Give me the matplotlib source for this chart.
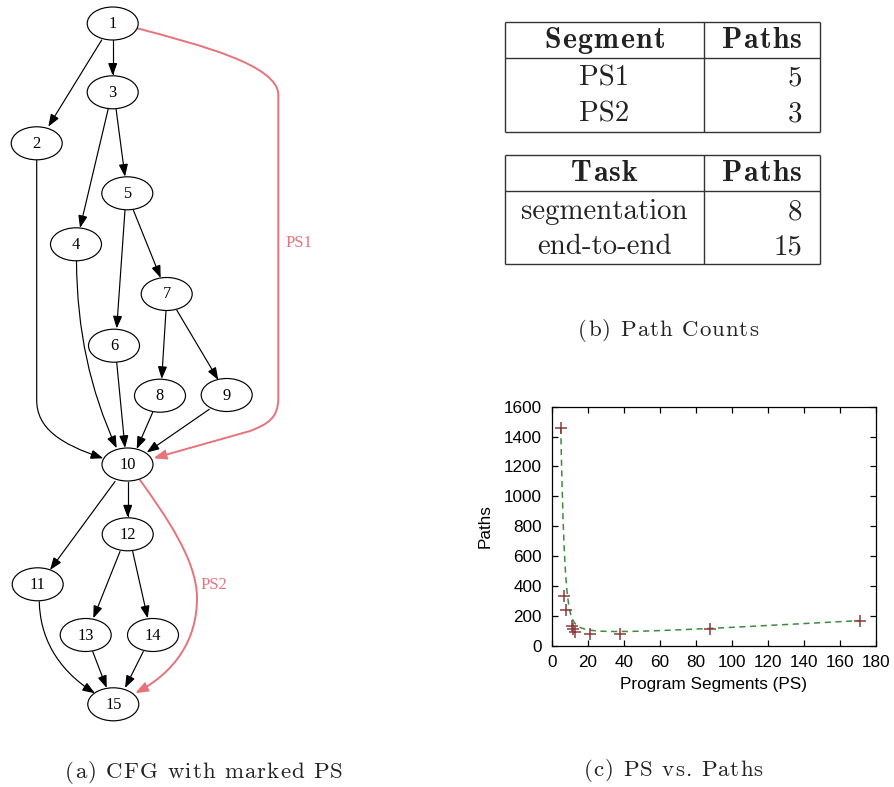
import numpy as np
from math import comb
import matplotlib
matplotlib.use("Agg")
import matplotlib.pyplot as plt
from matplotlib.patches import Ellipse, FancyArrowPatch, ArrowStyle
from matplotlib.path import Path
from matplotlib.font_manager import FontProperties, findfont, get_font

# ---------------------------------------------------------------- data
# (c) program segments vs. number of paths
ps_counts = [5, 7, 8, 11, 12, 13, 21, 38, 88, 171]
path_counts = [1460, 335, 240, 130, 110, 92, 80, 80, 115, 168]
x_ticks = list(range(0, 181, 20))
y_ticks = list(range(0, 1601, 200))

# (b) path counts
segment_names = ["PS1", "PS2"]
segment_paths = [5, 3]
task_names = ["segmentation", "end-to-end"]
task_paths = [8, 15]

# (a) control-flow graph
node_ids = list(range(1, 16))
edge_list = [(1, 2), (1, 3), (3, 4), (3, 5), (5, 6), (5, 7), (7, 8), (7, 9),
             (2, 10), (4, 10), (6, 10), (8, 10), (9, 10),
             (10, 11), (10, 12), (12, 13), (12, 14),
             (11, 15), (13, 15), (14, 15)]
segment_edges = {"PS1": (1, 10), "PS2": (10, 15)}

# ---------------------------------------------------------------- layout
W, H = 894, 787
fig = plt.figure(figsize=(W / 100, H / 100), dpi=100)
canvas_ax = fig.add_axes([0, 0, 1, 1])
canvas_ax.set_xlim(0, W)
canvas_ax.set_ylim(H, 0)
canvas_ax.axis("off")

node_pos = {1: (112.7, 23.5), 2: (36.7, 143.3), 3: (112.7, 92.3),
            4: (76.0, 244.3), 5: (127.3, 193.3), 6: (114.0, 345.7),
            7: (166.7, 294.0), 8: (160.0, 395.7), 9: (226.7, 395.0),
            10: (127.5, 464.5), 11: (37.7, 584.3), 12: (127.7, 534.3),
            13: (85.7, 635.0), 14: (153.0, 635.0), 15: (113.3, 704.3)}
NODE_W, NODE_H = 51, 33

# edge routes: start point followed by ('L', p) or ('C', c1, c2, p) segments
edge_route = {
    (1, 2): [(101.7, 40), ("L", (48.3, 126.7))],
    (1, 3): [(112.7, 40), ("L", (112.7, 75.7))],
    (3, 4): [(108.3, 108.5), ("L", (80.0, 228.0))],
    (3, 5): [(116.0, 108.5), ("L", (125.0, 176.7))],
    (5, 6): [(125.0, 210.0), ("L", (116.7, 328.5))],
    (5, 7): [(133.3, 210.0), ("L", (160.7, 278.0))],
    (7, 8): [(166.0, 310.5), ("L", (161.7, 379.0))],
    (7, 9): [(176.7, 310.0), ("L", (218.3, 380.0))],
    (2, 10): [(36.7, 160.0), ("L", (36.7, 400.0)),
              ("C", (36.7, 428.0), (60.0, 444.0), (103.3, 458.3))],
    (4, 10): [(76.5, 261.0), ("C", (77.0, 330.0), (90.0, 390.0), (116.7, 448.3))],
    (6, 10): [(116.7, 362.3), ("L", (125.0, 448.0))],
    (8, 10): [(152.7, 412.3), ("L", (136.7, 449.0))],
    (9, 10): [(209.3, 409.3), ("L", (146.7, 452.5))],
    (10, 11): [(115.0, 481.5), ("L", (50.0, 570.0))],
    (10, 12): [(127.7, 481.5), ("L", (127.7, 517.5))],
    (12, 13): [(120.0, 551.5), ("L", (93.3, 618.3))],
    (12, 14): [(132.7, 551.5), ("L", (147.7, 618.3))],
    (11, 15): [(39.3, 601.7), ("C", (40.0, 635.0), (55.0, 668.0), (95.0, 693.3))],
    (13, 15): [(92.7, 651.5), ("L", (106.7, 688.0))],
    (14, 15): [(143.3, 651.5), ("L", (125.0, 688.0))],
}
segment_route = {
    "PS1": [(137.3, 28.3), ("C", (200.0, 45.0), (278.3, 65.0), (278.3, 95.0)),
            ("L", (278.3, 398.0)),
            ("C", (278.3, 418.0), (268.0, 424.0), (250.0, 431.0)),
            ("L", (153.3, 458.3))],
    "PS2": [(140.0, 480.0), ("C", (165.0, 515.0), (197.0, 560.0), (197.0, 598.0)),
            ("C", (197.0, 640.0), (175.0, 672.0), (135.0, 693.3))],
}
segment_label_pos = {"PS1": (299, 243), "PS2": (214, 585)}

EDGE_RED = "#e8727a"
GRAPH_FONT = "Liberation Serif"
TEXT_C = "#222222"


def route_path(route):
    verts, codes = [route[0]], [Path.MOVETO]
    for seg in route[1:]:
        if seg[0] == "L":
            verts.append(seg[1])
            codes.append(Path.LINETO)
        else:
            verts.extend(seg[1:])
            codes.extend([Path.CURVE4] * 3)
    return Path(verts, codes)


def draw_edge(route, color, lw):
    style = ArrowStyle("-|>", head_length=0.75, head_width=0.28)
    arrow = FancyArrowPatch(path=route_path(route), arrowstyle=style,
                            mutation_scale=10, color=color, lw=lw,
                            joinstyle="miter", zorder=2)
    canvas_ax.add_patch(arrow)


for e in edge_list:
    draw_edge(edge_route[e], "black", 0.85)
for name in segment_edges:
    draw_edge(segment_route[name], EDGE_RED, 1.4)
    lx, ly = segment_label_pos[name]
    canvas_ax.text(lx, ly, name, color=EDGE_RED, fontsize=12,
                   family=GRAPH_FONT, ha="center", va="center")

for n in node_ids:
    x, y = node_pos[n]
    canvas_ax.add_patch(Ellipse((x, y), NODE_W, NODE_H, fc="white",
                                ec="black", lw=0.85, zorder=3))
    canvas_ax.text(x, y + 0.5, str(n), fontsize=11.8, family=GRAPH_FONT,
                   ha="center", va="center", zorder=4)


# ---------------------------------------------------------------- text helper
def tracked_text(x, y_base, s, family, size, tracking=0.0, align="center",
                 color=TEXT_C):
    """Draw text glyph by glyph with extra letter spacing (pixels)."""
    fp = FontProperties(family=family, size=size)
    font = get_font(findfont(fp))
    font.set_size(size, 100)
    px = size * 100 / 72
    adv = []
    for ch in s:
        if ch == " ":
            adv.append(0.333 * px)
        else:
            g = font.load_char(ord(ch))
            adv.append(g.linearHoriAdvance / 65536)
    total = sum(adv) + tracking * (len(s) - 1)
    if align == "center":
        x = x - total / 2
    elif align == "right":
        x = x - total
    for ch, a in zip(s, adv):
        if ch != " ":
            canvas_ax.text(x, y_base, ch, fontproperties=fp, ha="left",
                           va="baseline", color=color)
        x += a + tracking


# captions
tracked_text(204, 778, "(a) CFG with marked PS", "cmr10", 16.5, 1.0)
tracked_text(668, 336, "(b) Path Counts", "cmr10", 16.5, 1.0)
tracked_text(673, 776, "(c) PS vs. Paths", "cmr10", 16.5, 1.0)

# ---------------------------------------------------------------- tables
TBL_L, TBL_M, TBL_R = 505, 704, 819.5
NUM_X = 802
LINE_C = "#333333"


def draw_table(top, head_line, bottom, head_base, row_bases, head, rows, vals):
    for y in (top, head_line, bottom):
        canvas_ax.plot([TBL_L, TBL_R], [y, y], color=LINE_C, lw=1.0,
                       solid_capstyle="butt")
    for x in (TBL_L, TBL_M, TBL_R):
        canvas_ax.plot([x, x], [top, bottom], color=LINE_C, lw=1.0,
                       solid_capstyle="butt")
    cx = (TBL_L + TBL_M) / 2
    tracked_text(cx, head_base, head, "cmb10", 21.5, 1.3, "center")
    tracked_text(NUM_X, head_base, "Paths", "cmb10", 21.5, 1.3, "right")
    for yb, name, v in zip(row_bases, rows, vals):
        canvas_ax.text(cx, yb, name, family="cmr10", fontsize=20.8,
                       ha="center", va="baseline", color=TEXT_C)
        canvas_ax.text(NUM_X, yb, str(v), family="cmr10", fontsize=20.8,
                       ha="right", va="baseline", color=TEXT_C)


draw_table(22.3, 57.7, 131.7, 48.5, [85.7, 121.0], "Segment",
           segment_names, segment_paths)
draw_table(155.0, 191.0, 264.0, 181.0, [219.0, 254.3], "Task",
           task_names, task_paths)

# ---------------------------------------------------------------- scatter
ax = fig.add_axes([551.7 / W, 1 - 645.7 / H, 324.3 / W, 239.0 / H])
x = np.array(ps_counts, dtype=float)
y = np.array(path_counts, dtype=float)

# Bezier smoothing of the measurements (control points = data, sorted by x)
order = np.argsort(x, kind="stable")
cx_pts, cy_pts = x[order], y[order]
deg = len(cx_pts) - 1
t = np.linspace(0, 1, 600)
bern = np.array([comb(deg, k) * t ** k * (1 - t) ** (deg - k)
                 for k in range(deg + 1)])
ax.plot(bern.T @ cx_pts, bern.T @ cy_pts, color="#3d8a3d", lw=1.1,
        dashes=(4, 3))
ax.plot(x, y, "+", color="#8b3a3a", ms=8, mew=1.1, ls="none")

ax.set_xlim(0, 180)
ax.set_ylim(0, 1600)
ax.set_xticks(x_ticks)
ax.set_yticks(y_ticks)
ax.tick_params(direction="in", length=4.5, width=0.9, top=True, right=True,
               labelsize=12.3, pad=7)
for lab in ax.get_xticklabels() + ax.get_yticklabels():
    lab.set_family("Liberation Sans")
for sp in ax.spines.values():
    sp.set_linewidth(0.9)
ax.set_xlabel("Program Segments (PS)", family="Liberation Sans",
              fontsize=12.3, labelpad=5)
ax.set_ylabel("Paths", family="Liberation Sans", fontsize=12.3, labelpad=8)

fig.savefig("out.png", dpi=100)
